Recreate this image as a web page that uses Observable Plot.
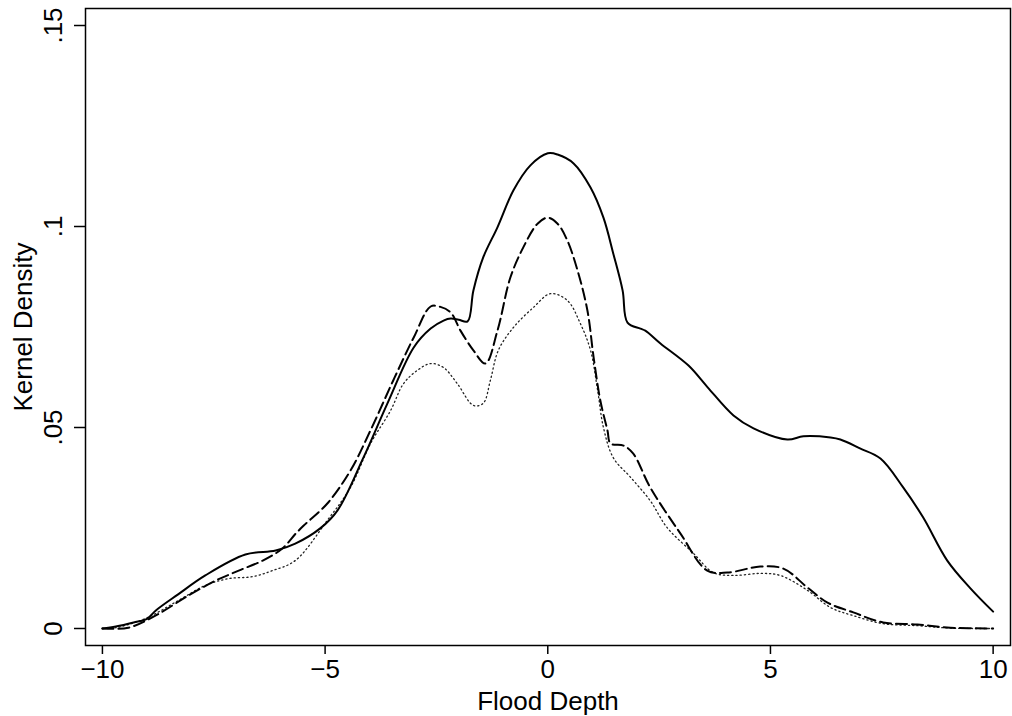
<!DOCTYPE html>
<html>
<head>
<meta charset="utf-8">
<script src="https://cdn.jsdelivr.net/npm/d3@7"></script>
<script src="https://cdn.jsdelivr.net/npm/@observablehq/plot@0.6"></script>
<style>
  html, body { margin: 0; padding: 0; background: #fff; }
  #chart svg { display: block; }
</style>
</head>
<body>
<div id="chart"></div>
<script>
// Tick values
const xTicks = [-10, -5, 0, 5, 10];
const yTicks = [0, 0.05, 0.1, 0.15];
const yTickLabels = ["0", ".05", ".1", ".15"];
const xTitle = "Flood Depth";
const yTitle = "Kernel Density";

// Solid line
const solidX = [-10, -9.7, -9.3, -9.0, -8.8, -8.3, -7.69, -6.79, -6.11, -5.67, -5.11, -4.72, -4.14, -3.60, -3.01, -2.63, -2.34, -2.18, -2.0, -1.80, -1.67, -1.45, -1.13, -0.77, -0.39, 0, 0.22, 0.58, 0.96, 1.25, 1.47, 1.68, 1.79, 2.08, 2.19, 2.53, 3.16, 3.59, 4.17, 4.62, 5.38, 5.74, 6.35, 6.57, 7.01, 7.47, 7.98, 8.43, 8.97, 9.49, 10.0];
const solidY = [0, 0.0005, 0.0015, 0.0024, 0.0045, 0.0085, 0.0132, 0.0184, 0.0194, 0.0211, 0.0249, 0.0294, 0.0425, 0.0560, 0.0699, 0.0746, 0.0766, 0.0771, 0.0768, 0.0764, 0.0841, 0.0923, 0.0998, 0.1090, 0.1152, 0.1182, 0.1179, 0.1157, 0.1097, 0.1022, 0.0933, 0.0841, 0.0761, 0.0746, 0.0741, 0.0709, 0.0654, 0.0600, 0.0530, 0.0498, 0.0470, 0.0478, 0.0475, 0.0470, 0.0448, 0.0423, 0.0351, 0.0276, 0.0169, 0.0100, 0.0042];

// Dashed line
const dashX = [-10, -9.42, -8.81, -8.07, -7.46, -6.94, -6.40, -5.96, -5.66, -5.48, -4.95, -4.43, -3.98, -3.47, -3.01, -2.63, -2.41, -2.18, -1.96, -1.67, -1.40, -1.13, -0.84, -0.55, -0.23, 0, 0.22, 0.44, 0.67, 0.89, 1.03, 1.18, 1.34, 1.41, 1.70, 1.92, 2.30, 2.98, 3.58, 4.03, 4.77, 5.29, 5.83, 6.27, 6.86, 7.53, 8.30, 9.04, 10];
const dashY = [0, 0.0002, 0.0032, 0.0082, 0.0119, 0.0144, 0.0169, 0.0199, 0.0236, 0.0256, 0.0311, 0.0393, 0.0493, 0.0617, 0.0724, 0.0801, 0.0800, 0.0786, 0.0741, 0.0692, 0.0659, 0.0741, 0.0873, 0.0948, 0.1007, 0.1022, 0.1007, 0.0965, 0.0890, 0.0791, 0.0674, 0.0567, 0.0493, 0.0460, 0.0455, 0.0435, 0.0351, 0.0236, 0.0144, 0.0139, 0.0154, 0.0149, 0.0102, 0.0065, 0.0040, 0.0015, 0.0010, 0.0002, 0];

// Dotted line
const dotX = [-10, -9.7, -9.03, -8.29, -7.69, -7.17, -6.63, -6.18, -5.67, -4.95, -4.43, -3.98, -3.53, -3.24, -2.93, -2.63, -2.34, -2.03, -1.67, -1.45, -1.29, -1.11, -0.77, -0.32, 0.06, 0.44, 0.73, 0.96, 1.12, 1.25, 1.47, 1.86, 2.30, 2.68, 3.27, 3.72, 4.17, 4.77, 5.22, 5.83, 6.35, 6.86, 7.53, 8.30, 9.04, 10];
const dotY = [0, 0.0002, 0.0025, 0.0070, 0.0107, 0.0124, 0.0129, 0.0144, 0.0169, 0.0269, 0.0351, 0.0460, 0.0542, 0.0609, 0.0642, 0.0659, 0.0649, 0.0609, 0.0555, 0.0560, 0.0617, 0.0692, 0.0749, 0.0799, 0.0833, 0.0816, 0.0759, 0.0692, 0.0592, 0.0500, 0.0425, 0.0376, 0.0318, 0.0251, 0.0187, 0.0139, 0.0132, 0.0137, 0.0132, 0.0095, 0.0052, 0.0032, 0.0012, 0.0007, 0.0001, 0];

const toRows = (xs, ys) => xs.map((x, i) => ({x, y: ys[i]}));
const solid = toRows(solidX, solidY);
const dashed = toRows(dashX, dashY);
const dotted = toRows(dotX, dotY);

const font = "'Liberation Sans', Arial, Helvetica, sans-serif";
const fs = 26;

const chart = Plot.plot({
  width: 1012,
  height: 716,
  marginLeft: 85,
  marginRight: 2,
  marginTop: 8,
  marginBottom: 71,
  style: {fontFamily: font, background: "#fff", color: "#000"},
  x: {domain: [-10.38, 10.39]},
  y: {domain: [-0.00423, 0.15423]},
  marks: [
    Plot.axisX({ticks: xTicks, tickSize: 9, tickPadding: 5, fontSize: fs, strokeWidth: 1.5, tickFormat: d => d < 0 ? "\u2212" + Math.abs(d) : String(d), label: null}),
    Plot.axisY({ticks: yTicks, tickSize: 11, strokeWidth: 1.5, tickFormat: () => "", label: null}),
    Plot.text(yTicks, {y: d => d, text: (d, i) => yTickLabels[i], frameAnchor: "left", dx: -32, rotate: -90, textAnchor: "middle", lineAnchor: "middle", fontSize: fs, fill: "#000"}),
    Plot.line(dotted, {x: "x", y: "y", stroke: "#222", strokeWidth: 1.3, strokeDasharray: "1.2,3", curve: "catmull-rom"}),
    Plot.line(dashed, {x: "x", y: "y", stroke: "#000", strokeWidth: 2, strokeDasharray: "11,5", curve: "catmull-rom"}),
    Plot.line(solid, {x: "x", y: "y", stroke: "#000", strokeWidth: 2, curve: "catmull-rom"}),
    Plot.frame({stroke: "#000", strokeWidth: 1.5}),
    Plot.text([xTitle], {frameAnchor: "bottom", dy: 56, fontSize: fs, textAnchor: "middle", lineAnchor: "middle", text: d => d, fill: "#000"}),
    Plot.text([yTitle], {frameAnchor: "left", dx: -62, rotate: -90, fontSize: fs, textAnchor: "middle", lineAnchor: "middle", text: d => d, fill: "#000"})
  ]
});
document.getElementById("chart").appendChild(chart);
</script>
</body>
</html>
